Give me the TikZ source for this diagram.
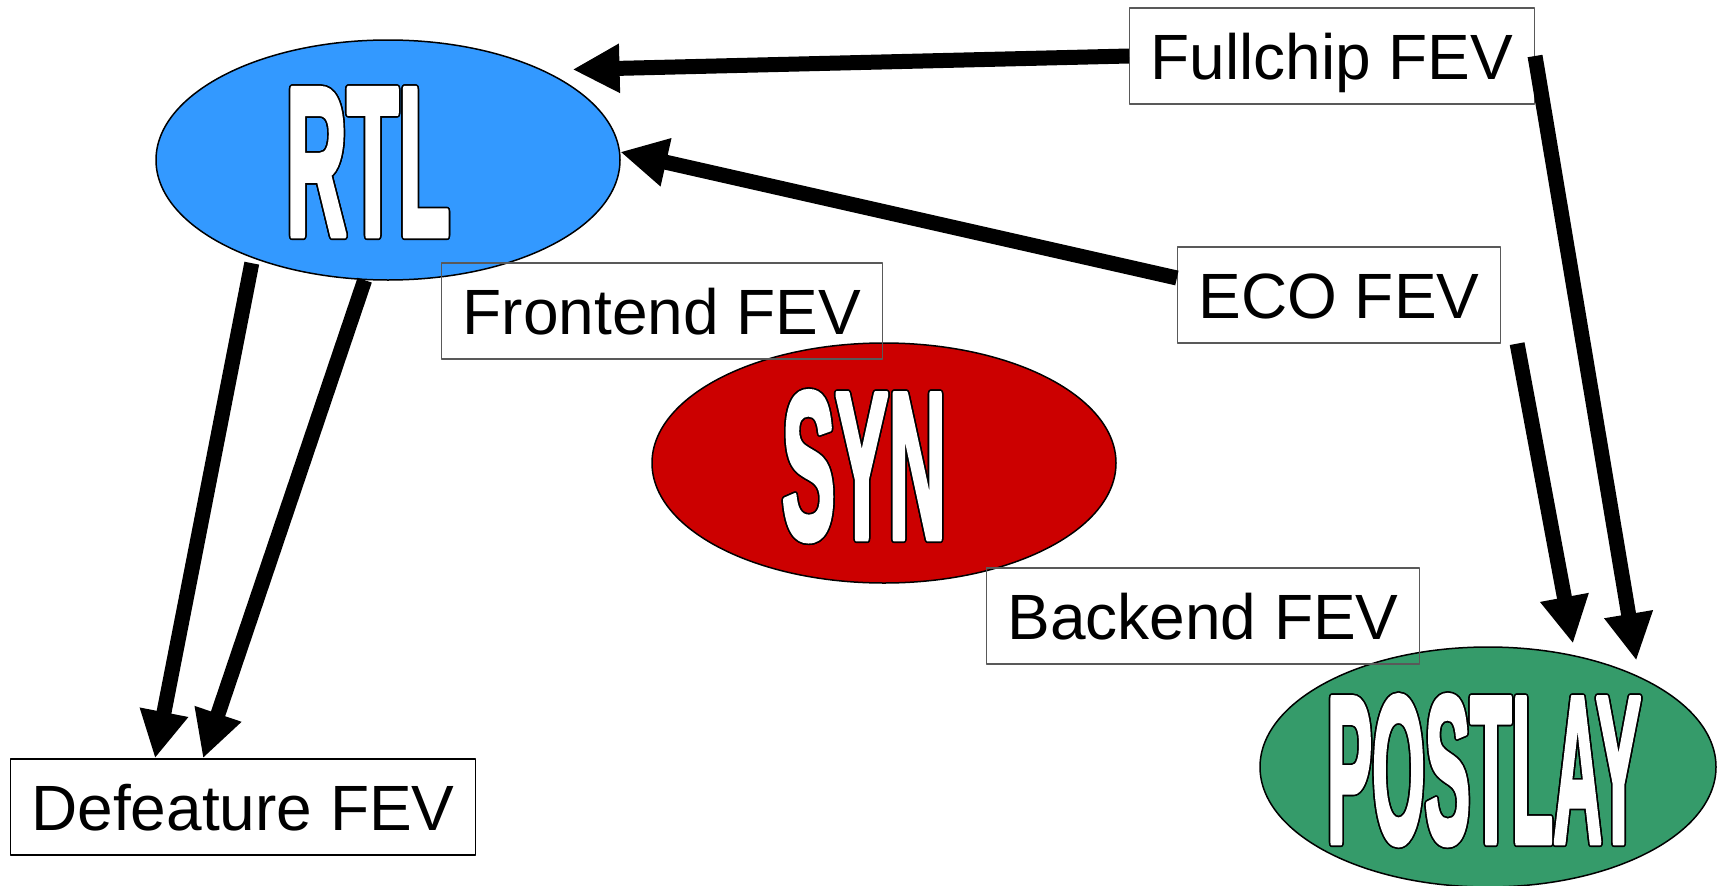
\documentclass[tikz,border=0pt]{standalone}
\usepackage{fontspec}
\setmainfont{Liberation Sans}
\newfontfamily\heavyfont{Liberation Sans}[BoldFeatures={FakeBold=3}]
\usepackage{contour}
\usetikzlibrary{shapes.geometric,arrows.meta}
\definecolor{rtlblue}{RGB}{51,153,255}
\definecolor{synred}{RGB}{204,0,0}
\definecolor{laygreen}{RGB}{53,155,106}
\contourlength{1.6pt}
\newcommand{\bigword}[2]{\textcolor{white}{\contour{black}{\resizebox{#2}{146pt}{\heavyfont\bfseries #1}}}}
\begin{document}
\begin{tikzpicture}[x=1pt,y=-1pt,line join=round,
	flow/.style={ellipse,draw,line width=1.5pt,minimum width=464pt,minimum height=240pt,inner sep=0pt},
	fev/.style={rectangle,draw=black!65,line width=1.3pt,font=\fontsize{64}{72}\selectfont,inner xsep=21pt,minimum height=96pt,text height=46pt,text depth=0pt},
	link/.style={-{Triangle[length=47pt,width=46pt]},line width=15pt}]
	\useasboundingbox (0,0) rectangle (1717,886);
	\node[flow,fill=rtlblue,label={[xshift=-20pt,yshift=-3pt]center:\bigword{RTL}{164pt}}] (rtl) at (388,160) {};
	\node[flow,fill=synred,label={[xshift=-20pt,yshift=-4pt]center:\bigword{SYN}{164pt}}] (syn) at (884,463) {};
	\node[flow,fill=laygreen,minimum width=456pt,label={[xshift=-4pt,yshift=-4pt]center:\bigword{POSTLAY}{314pt}}] (post) at (1488,767) {};
	\node[fev] (full) at (1332,56) {Fullchip FEV};
	\node[fev] (eco) at (1339,295) {ECO FEV};
	\node[fev] (front) at (662,311) {Frontend FEV};
	\node[fev] (back) at (1203,616) {Backend FEV};
	\node[fev,draw=black] (defe) at (243,807) {Defeature FEV};
	\draw[link,shorten >=29pt] (full.west) -- (rtl.30);
	\draw[link] ([yshift=17pt]eco.west) -- (rtl.2);
	\draw[link,shorten <=5pt] (rtl.216) -- ([xshift=-88pt]defe.north);
	\draw[link] (rtl.259) -- ([xshift=-40pt]defe.north);
	\draw[link,shorten >=16pt] (full.east) -- (post.31);
	\draw[link,shorten >=12pt] ([xshift=16pt]eco.south east) -- (post.52);
\end{tikzpicture}
\end{document}
